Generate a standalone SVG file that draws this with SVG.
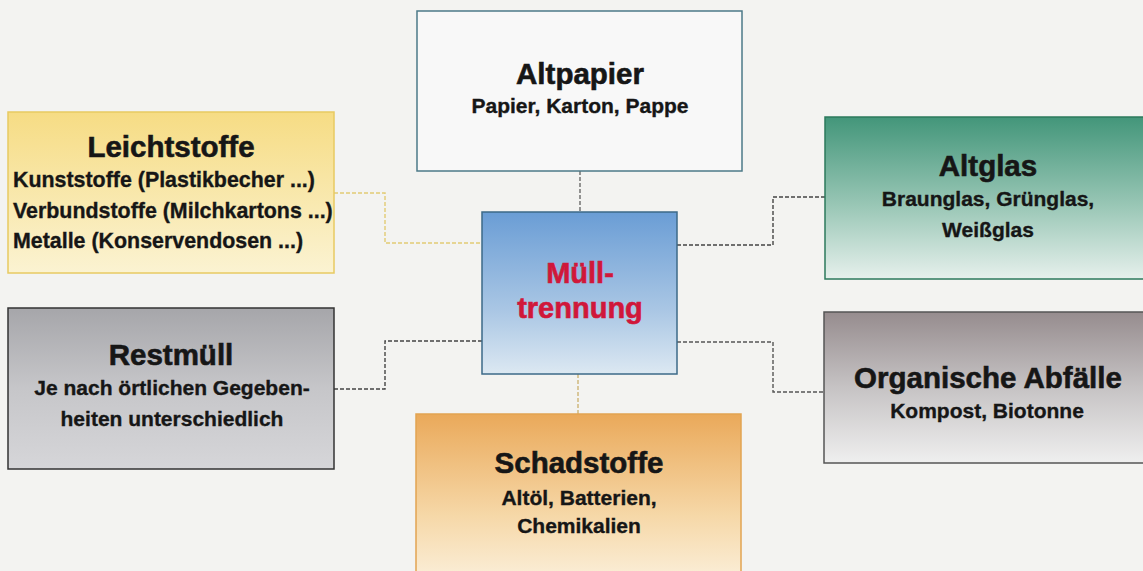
<svg xmlns="http://www.w3.org/2000/svg" width="1143" height="571" viewBox="0 0 1143 571">
<defs>
<linearGradient id="gYellow" x1="0" y1="0" x2="0" y2="1"><stop offset="0" stop-color="#f6dc84"/><stop offset="1" stop-color="#fbf3d2"/></linearGradient>
<linearGradient id="gBlue" x1="0" y1="0" x2="0" y2="1"><stop offset="0" stop-color="#6a9dd5"/><stop offset="0.6" stop-color="#a9c6e4"/><stop offset="1" stop-color="#dce8f2"/></linearGradient>
<linearGradient id="gGreen" x1="0" y1="0" x2="0" y2="1"><stop offset="0" stop-color="#43967a"/><stop offset="0.55" stop-color="#9ac7b6"/><stop offset="1" stop-color="#e6f0ec"/></linearGradient>
<linearGradient id="gMauve" x1="0" y1="0" x2="0" y2="1"><stop offset="0" stop-color="#968c8e"/><stop offset="0.5" stop-color="#c6c3c4"/><stop offset="1" stop-color="#efefef"/></linearGradient>
<linearGradient id="gGray" x1="0" y1="0" x2="0" y2="1"><stop offset="0" stop-color="#a6a6aa"/><stop offset="0.5" stop-color="#c6c6c9"/><stop offset="1" stop-color="#d6d6d9"/></linearGradient>
<linearGradient id="gOrange" x1="0" y1="0" x2="0" y2="1"><stop offset="0" stop-color="#eaa95a"/><stop offset="0.6" stop-color="#f6d8a8"/><stop offset="1" stop-color="#fbf0dc"/></linearGradient>
</defs>
<style>
text{font-family:"Liberation Sans",Arial,sans-serif;font-weight:bold;fill:#161616;stroke:#161616;stroke-width:0.35}
.t{font-size:29.5px;text-anchor:middle;stroke-width:0.6}
.s{font-size:21px;text-anchor:middle}
.l{font-size:21.4px}
.red{fill:#d0173a;stroke:#d0173a;stroke-width:0.6;font-size:29px;text-anchor:middle}
.c{fill:none;stroke-width:1.4;stroke-dasharray:4 2}
</style>
<rect width="1143" height="571" fill="#f3f3f1"/>
<g id="connectors">
<path class="c" stroke="#6a6a6a" d="M580 171 V212"/>
<path class="c" stroke="#e2cb74" d="M334 193 H385 V243 H482"/>
<path class="c" stroke="#444" d="M677 245 H773 V197 H825"/>
<path class="c" stroke="#444" d="M482 341 H385 V389 H334"/>
<path class="c" stroke="#555" d="M677 342 H773 V392 H824"/>
<path class="c" stroke="#cdb476" d="M578 374 V414"/>
</g>
<g id="altpapier">
<rect x="417" y="11" width="325" height="160" fill="#f8f8f8" stroke="#4c7a88" stroke-width="1.5"/>
<text class="t" x="580" y="84">Altpapier</text>
<text class="s" x="580" y="113">Papier, Karton, Pappe</text>
</g>
<g id="leichtstoffe">
<rect x="8" y="112" width="326" height="161" fill="url(#gYellow)" stroke="#e8ca62" stroke-width="1.5"/>
<text class="t" x="171" y="157">Leichtstoffe</text>
<text class="l" x="13" y="187">Kunststoffe (Plastikbecher ...)</text>
<text class="l" x="13" y="218">Verbundstoffe (Milchkartons ...)</text>
<text class="l" x="13" y="248">Metalle (Konservendosen ...)</text>
</g>
<g id="muelltrennung">
<rect x="482" y="212" width="195" height="162" fill="url(#gBlue)" stroke="#3c6a88" stroke-width="1.5"/>
<text class="red" x="580" y="283">Müll-</text>
<text class="red" x="580" y="318">trennung</text>
</g>
<g id="altglas">
<rect x="825" y="117" width="326" height="162" fill="url(#gGreen)" stroke="#2c7a5c" stroke-width="1.5"/>
<text class="t" x="988" y="176">Altglas</text>
<text class="s" x="988" y="206">Braunglas, Grünglas,</text>
<text class="s" x="988" y="237">Weißglas</text>
</g>
<g id="restmuell">
<rect x="8" y="308" width="326" height="161" fill="url(#gGray)" stroke="#333" stroke-width="1.5"/>
<text class="t" x="171" y="365">Restmüll</text>
<text class="s" x="172" y="395">Je nach örtlichen Gegeben-</text>
<text class="s" x="172" y="426">heiten unterschiedlich</text>
</g>
<g id="organische">
<rect x="824" y="312" width="327" height="151" fill="url(#gMauve)" stroke="#555" stroke-width="1.5"/>
<text class="t" x="988" y="388">Organische Abfälle</text>
<text class="s" x="987" y="418">Kompost, Biotonne</text>
</g>
<g id="schadstoffe">
<rect x="416" y="414" width="325" height="170" fill="url(#gOrange)" stroke="#e2a452" stroke-width="1.5"/>
<text class="t" x="579" y="473">Schadstoffe</text>
<text class="s" x="579" y="505">Altöl, Batterien,</text>
<text class="s" x="579" y="533">Chemikalien</text>
</g>
</svg>
